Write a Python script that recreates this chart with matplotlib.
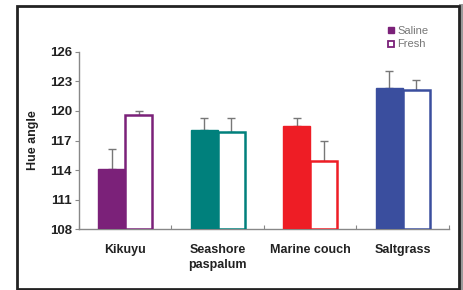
import matplotlib
matplotlib.use("Agg")
import matplotlib.pyplot as plt
from matplotlib.patches import Rectangle
from matplotlib.lines import Line2D
import numpy as np

categories = ["Kikuyu", "Seashore\npaspalum", "Marine couch", "Saltgrass"]
saline = [114.1, 118.05, 118.5, 122.3]
saline_err = [2.0, 1.25, 0.8, 1.7]
fresh = [119.55, 117.9, 114.9, 122.15]
fresh_err = [0.45, 1.4, 2.1, 0.95]
colors = ["#7B2179", "#00807C", "#EE1D25", "#3A4E9E"]
yticks = [108, 111, 114, 117, 120, 123, 126]

W, H = 464, 290
fig = plt.figure(figsize=(W / 100, H / 100), dpi=100)
plt.rcParams['font.family'] = ['Liberation Sans', 'DejaVu Sans']

# frame and shadow
fig.patches.append(Rectangle((459 / W, 0), 5 / W, 1 - 4 / H, transform=fig.transFigure,
                             facecolor="#9a9a9a", edgecolor="none", zorder=0))
fig.patches.append(Rectangle((17 / W, 1.5 / H), 442 / W, 1 - 7.5 / H, transform=fig.transFigure,
                             facecolor="white", edgecolor="#222222", linewidth=2.0, zorder=1))

ax = fig.add_axes([79 / W, 1 - 229.3 / H, (449 - 79) / W, (229.3 - 51.7) / H])
ax.set_zorder(2)
ax.patch.set_alpha(0)

x = np.arange(len(categories)) + 0.5
bw = 0.29
for i in range(len(categories)):
    c = colors[i]
    ax.bar(x[i] - bw / 2, saline[i] - 108, bw, bottom=108, color=c, edgecolor=c, linewidth=1.0, zorder=3)
    ax.bar(x[i] + bw / 2, fresh[i] - 108, bw, bottom=108, color="white", edgecolor=c, linewidth=1.8, zorder=3)
    ax.errorbar(x[i] - bw / 2, saline[i], yerr=[[0], [saline_err[i]]], fmt="none",
                ecolor="#777777", elinewidth=1.0, capsize=3, capthick=1.0, zorder=2)
    ax.errorbar(x[i] + bw / 2, fresh[i], yerr=[[0], [fresh_err[i]]], fmt="none",
                ecolor="#777777", elinewidth=1.0, capsize=3, capthick=1.0, zorder=2)

ax.set_xlim(0, len(categories))
ax.set_ylim(108, 126)
ax.set_yticks(yticks)
ax.set_yticklabels([str(t) for t in yticks], fontsize=9.5, fontweight="bold", color="#222222")
ax.set_xticks(np.arange(len(categories) + 1))
ax.set_xticklabels([])
ax.tick_params(axis="x", direction="in", length=3, color="#888888")
ax.tick_params(axis="y", direction="out", length=3, color="#888888", pad=2)
for i, lab in enumerate(categories):
    ax.text(x[i], -0.08, lab, transform=ax.get_xaxis_transform(), ha="center", va="top",
            fontsize=9, fontweight="bold", color="#222222", linespacing=1.35)
for s in ["top", "right"]:
    ax.spines[s].set_visible(False)
for s in ["left", "bottom"]:
    ax.spines[s].set_color("#888888")
    ax.spines[s].set_linewidth(1.0)
ax.set_ylabel("Hue angle", fontsize=9, fontweight="bold", color="#222222", labelpad=8)

handles = [Line2D([], [], marker="s", linestyle="none", markersize=5, markerfacecolor=colors[0],
                  markeredgecolor=colors[0]),
           Line2D([], [], marker="s", linestyle="none", markersize=5, markerfacecolor="white",
                  markeredgecolor=colors[0], markeredgewidth=1.3)]
leg = fig.legend(handles, ["Saline", "Fresh"], loc="upper left", bbox_to_anchor=(382 / W, 1 - 20 / H),
                 frameon=False, fontsize=8, handlelength=0.6, handletextpad=0.3, labelspacing=0.35,
                 borderpad=0, labelcolor="#777777")
leg.set_zorder(3)

fig.savefig("out.png", dpi=100)
